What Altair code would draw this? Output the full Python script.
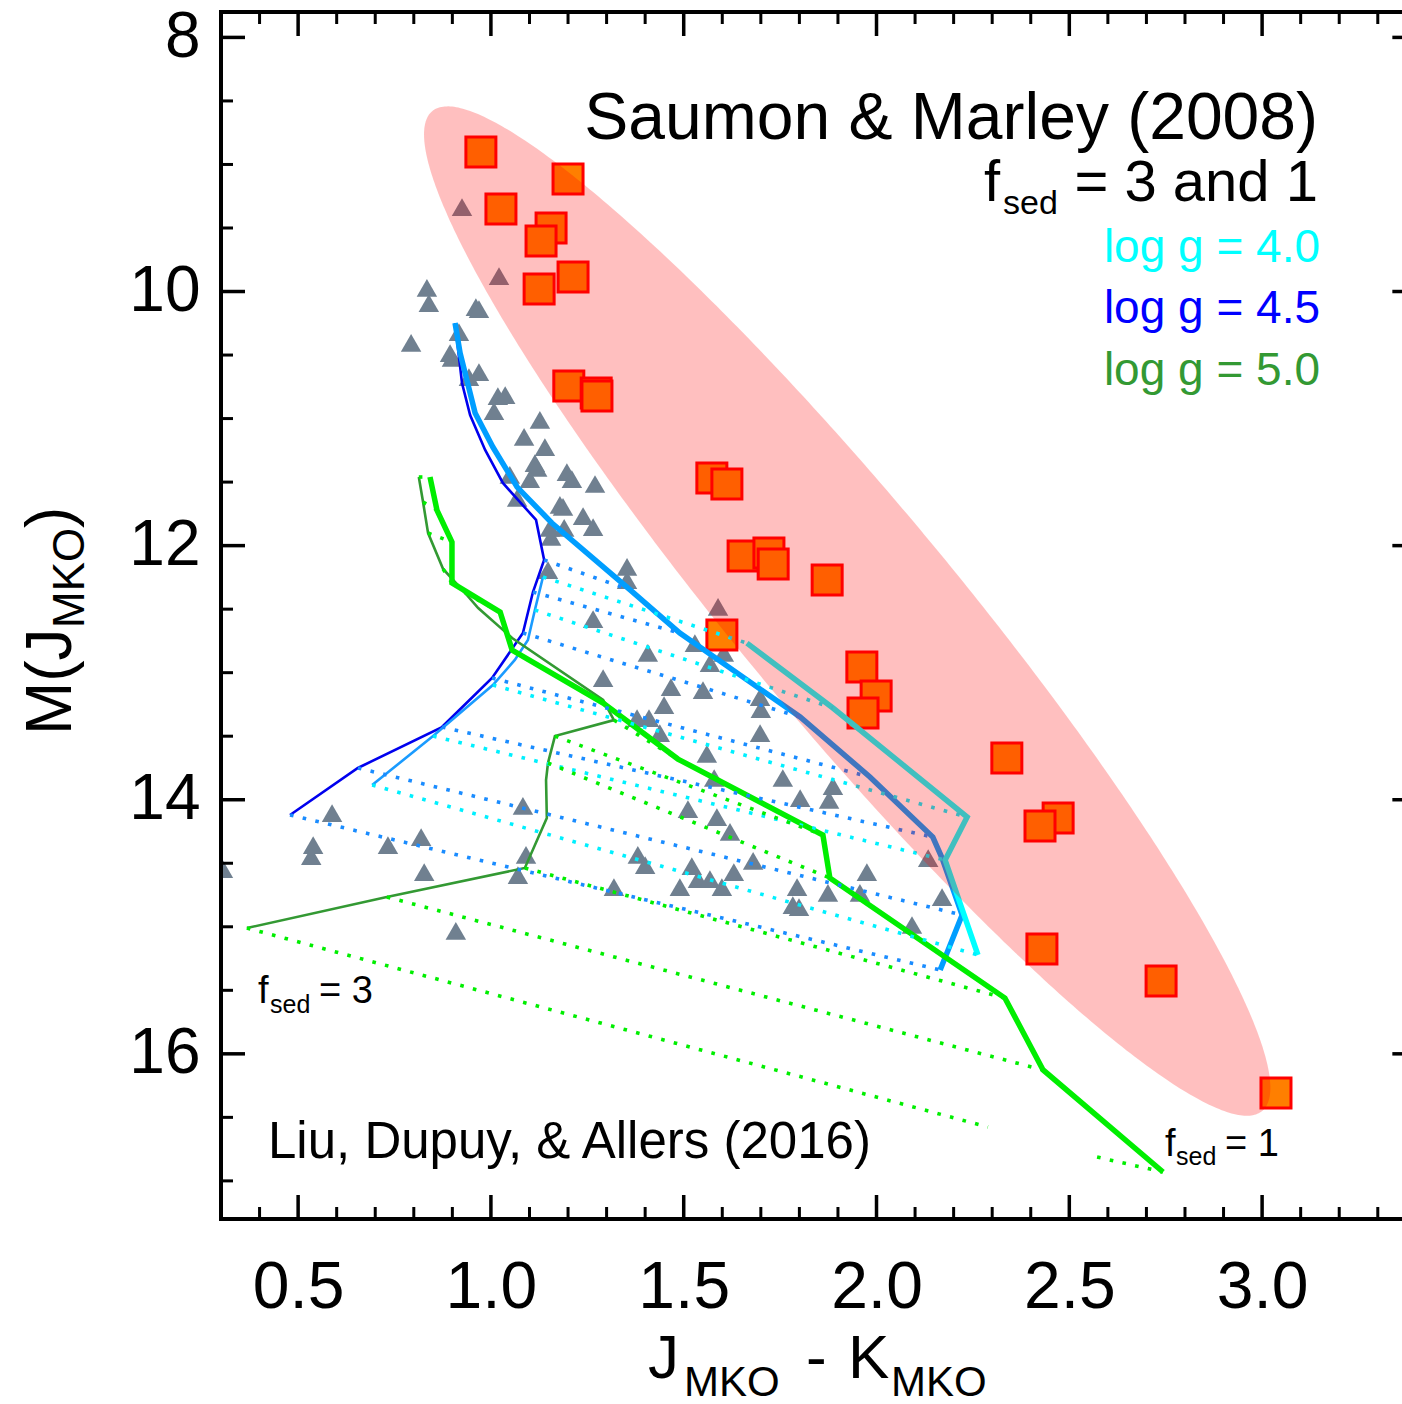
import altair as alt
import numpy as np
import pandas as pd

FONT = "Liberation Sans"

# Visible window of the colour-magnitude diagram
X_DOMAIN = [0.3, 3.3628]
Y_DOMAIN = [7.8, 17.3]
W, H = 1181, 1207
PX_PER_X = W / (X_DOMAIN[1] - X_DOMAIN[0])
RIGHT_FRAME = (3.4 - X_DOMAIN[0]) * PX_PER_X  # box edge, just past the canvas

X_MAJOR = [0.5, 1.0, 1.5, 2.0, 2.5, 3.0]
X_MINOR = [0.3, 0.4, 0.6, 0.7, 0.8, 0.9, 1.1, 1.2, 1.3, 1.4, 1.6, 1.7, 1.8, 1.9,
           2.1, 2.2, 2.3, 2.4, 2.6, 2.7, 2.8, 2.9, 3.1, 3.2, 3.3]
Y_MAJOR = [8, 10, 12, 14, 16]
Y_MINOR = [8.5, 9, 9.5, 10.5, 11, 11.5, 12.5, 13, 13.5, 14.5, 15, 15.5, 16.5, 17]

# Field ultracool dwarfs (Liu, Dupuy & Allers 2016)
tri_jk = [0.925, 1.021, 0.834, 0.839, 0.961, 0.969, 0.793, 0.917, 0.894, 0.899,
          0.943, 0.969, 1.018, 1.037, 1.008, 1.127, 1.086, 1.140, 1.114, 1.120,
          1.101, 1.049, 1.197, 1.210, 1.270, 1.068, 1.179, 1.187, 1.239, 1.153,
          1.156, 1.190, 1.265, 1.148, 1.353, 1.353, 1.265, 1.589, 1.529, 1.604,
          1.568, 1.407, 1.291, 1.467, 1.550, 1.449, 1.698, 1.700, 1.698, 1.379,
          1.410, 1.438, 1.560, 1.757, 1.579, 1.887, 1.802, 1.877, 1.511, 1.586,
          1.620, 2.134, 1.381, 1.400, 1.680, 1.521, 1.630, 1.975, 1.794, 1.874,
          2.170, 1.319, 1.490, 1.537, 1.568, 1.599, 1.783, 1.799, 1.957, 2.092,
          0.588, 0.539, 0.534, 0.733, 0.819, 0.827, 0.305, 1.083, 1.091, 1.070,
          0.909]
tri_mj = [9.335, 9.878, 9.972, 10.091, 10.122, 10.138, 10.405, 10.319, 10.484, 10.523,
          10.673, 10.634, 10.823, 10.815, 10.941, 11.011, 11.145, 11.224, 11.350, 11.389,
          11.476, 11.444, 11.421, 11.476, 11.515, 11.625, 11.680, 11.696, 11.767, 11.861,
          11.932, 11.861, 11.854, 12.192, 12.168, 12.271, 12.578, 12.483, 12.767, 12.845,
          12.924, 12.845, 13.042, 13.113, 13.137, 13.255, 13.192, 13.286, 13.475, 13.357,
          13.357, 13.475, 13.640, 13.829, 13.829, 13.892, 13.987, 14.002, 14.073, 14.136,
          14.254, 14.459, 14.435, 14.514, 14.482, 14.522, 14.569, 14.569, 14.687, 14.734,
          14.766, 14.687, 14.687, 14.624, 14.624, 14.687, 14.829, 14.845, 14.734, 14.986,
          14.105, 14.357, 14.443, 14.357, 14.294, 14.569, 14.546, 14.049, 14.435, 14.593,
          15.033]

# Young, low-gravity objects
sq_jk = [0.974, 1.200, 1.026, 1.156, 1.130, 1.213, 1.125, 1.202, 1.273, 1.275,
         1.573, 1.612, 1.654, 1.721, 1.732, 1.872, 1.599, 1.962, 1.999, 1.965,
         2.338, 2.471, 2.424, 2.429, 2.738, 3.036]
sq_mj = [8.902, 9.114, 9.351, 9.500, 9.602, 9.886, 9.980, 10.744, 10.799, 10.822,
         11.468, 11.515, 12.082, 12.058, 12.145, 12.271, 12.704, 12.955, 13.184, 13.318,
         13.672, 14.144, 14.207, 15.175, 15.427, 16.308]

# Saumon & Marley (2008) model tracks
g45_f3_jk = [0.907, 0.925, 0.946, 0.985, 1.031, 1.117, 1.138, 1.109, 1.083, 1.003, 0.873, 0.655, 0.479]
g45_f3_mj = [10.248, 10.720, 10.972, 11.247, 11.507, 11.798, 12.113, 12.365, 12.688, 13.042, 13.428, 13.750, 14.120]
g40_f3_jk = [1.135, 1.114, 1.096, 1.062, 1.005, 0.850, 0.692]
g40_f3_mj = [12.247, 12.507, 12.743, 12.900, 13.097, 13.499, 13.884]
g50_f3_jk = [0.813, 0.824, 0.837, 0.876, 0.933, 0.967, 1.055, 1.291, 1.319, 1.166, 1.148, 1.143, 1.145, 1.088, 0.730, 0.367]
g50_f3_mj = [11.460, 11.657, 11.901, 12.184, 12.373, 12.491, 12.727, 13.215, 13.373, 13.499, 13.711, 13.845, 14.144, 14.537, 14.766, 15.010]

g45_f1_jk = [0.907, 0.920, 0.959, 1.005, 1.068, 1.158, 1.361, 1.490, 1.802, 1.983, 2.146, 2.170, 2.222, 2.165]
g45_f1_mj = [10.248, 10.484, 10.956, 11.224, 11.539, 11.822, 12.349, 12.688, 13.349, 13.821, 14.294, 14.459, 14.907, 15.340]
g40_f1_jk = [1.664, 1.887, 2.235, 2.178, 2.263]
g40_f1_mj = [12.767, 13.278, 14.136, 14.475, 15.222]
g50_f1_jk = [0.842, 0.860, 0.899, 0.899, 1.024, 1.055, 1.291, 1.485, 1.861, 1.879, 2.333, 2.432, 2.743]
g50_f1_mj = [11.460, 11.720, 11.972, 12.294, 12.523, 12.822, 13.239, 13.680, 14.278, 14.616, 15.561, 16.127, 16.930]

# Equal-Teff links between the f_sed = 3 and f_sed = 1 tracks: (jk0, mj0, jk1, mj1)
links_g45 = [(1.138, 12.113, 1.361, 12.349), (1.109, 12.365, 1.490, 12.688),
             (1.083, 12.688, 1.802, 13.349), (1.003, 13.042, 1.983, 13.821),
             (0.873, 13.428, 2.146, 14.294), (0.655, 13.750, 2.222, 14.907),
             (0.479, 14.120, 2.165, 15.340)]
links_g40 = [(1.135, 12.247, 1.664, 12.767), (1.114, 12.507, 1.887, 13.278),
             (1.005, 13.097, 2.235, 14.136), (0.850, 13.499, 2.178, 14.475),
             (0.692, 13.884, 2.263, 15.222)]
links_g50 = [(0.813, 11.460, 0.842, 11.460), (0.824, 11.657, 0.860, 11.720),
             (0.837, 11.901, 0.899, 11.972), (0.876, 12.184, 0.899, 12.294),
             (0.933, 12.373, 1.024, 12.523), (1.319, 13.373, 1.485, 13.680),
             (1.166, 13.499, 1.861, 14.278), (1.148, 13.711, 1.879, 14.616),
             (1.088, 14.537, 2.333, 15.561), (0.730, 14.766, 2.432, 16.127),
             (0.367, 15.010, 2.289, 16.576), (2.572, 16.812, 2.743, 16.930)]

# Shaded locus of the young objects: centre and two conjugate semi-axes
ELL_CENTER = (1.924, 12.515)
ELL_U = (1.076, 3.935)
ELL_V = (0.216, -0.543)

xscale = alt.Scale(domain=X_DOMAIN, nice=False, zero=False)
yscale = alt.Scale(domain=Y_DOMAIN, nice=False, zero=False, reverse=True)
xaxis = alt.Axis(values=X_MAJOR, format=".1f", labelFontSize=66, labelFont=FONT,
                 labelColor="black", ticks=False, tickSize=0, domain=False, grid=False,
                 labelPadding=88, labelBaseline="alphabetic", labelFlush=False,
                 labelOverlap=False, title=None)
yaxis = alt.Axis(values=Y_MAJOR, format="d", labelFontSize=64, labelFont=FONT,
                 labelColor="black", ticks=False, tickSize=0, domain=False, grid=False,
                 labelPadding=21, labelFlush=False, labelOverlap=False, title=None)


def X(field="x"):
    return alt.X(f"{field}:Q", scale=xscale, axis=xaxis)


def Y(field="y"):
    return alt.Y(f"{field}:Q", scale=yscale, axis=yaxis)


def track(xs, ys, color, width):
    df = pd.DataFrame({"x": xs, "y": ys, "i": range(len(xs))})
    return alt.Chart(df).mark_line(color=color, strokeWidth=width, strokeJoin="miter").encode(
        x=X(), y=Y(), order="i:Q")


def links(segs, color):
    rows = []
    for k, (a, b, c, d) in enumerate(segs):
        rows.append({"seg": k, "i": 0, "x": a, "y": b})
        rows.append({"seg": k, "i": 1, "x": c, "y": d})
    return alt.Chart(pd.DataFrame(rows)).mark_line(
        color=color, strokeWidth=3.6, strokeDash=[3.6, 9.4], strokeCap="butt").encode(
        x=X(), y=Y(), detail="seg:N", order="i:Q")


def label(text, x, y, size, color="black", align="left", angle=0, baseline="alphabetic"):
    return alt.Chart(pd.DataFrame({"t": [text]})).mark_text(
        text=text, font=FONT, fontSize=size, color=color, align=align,
        baseline=baseline, angle=angle).encode(x=alt.value(x), y=alt.value(y))


one = pd.DataFrame({"k": [0]})

# ticks pointing into the box on all four sides
xt_major = pd.DataFrame({"x": X_MAJOR})
xt_minor = pd.DataFrame({"x": X_MINOR})
yt_major = pd.DataFrame({"y": Y_MAJOR})
yt_minor = pd.DataFrame({"y": Y_MINOR})

tick_layers = []
for d, ln, sw in [(xt_major, 24, 3.5), (xt_minor, 12, 3)]:
    tick_layers.append(alt.Chart(d).mark_rule(color="black", strokeWidth=sw).encode(
        x=X(), y=alt.value(H), y2=alt.value(H - ln)))
    tick_layers.append(alt.Chart(d).mark_rule(color="black", strokeWidth=sw).encode(
        x=X(), y=alt.value(0), y2=alt.value(ln)))
for d, ln, sw in [(yt_major, 24, 3.5), (yt_minor, 12, 3)]:
    tick_layers.append(alt.Chart(d).mark_rule(color="black", strokeWidth=sw).encode(
        y=Y(), x=alt.value(0), x2=alt.value(ln)))
    tick_layers.append(alt.Chart(d).mark_rule(color="black", strokeWidth=sw).encode(
        y=Y(), x=alt.value(RIGHT_FRAME - ln), x2=alt.value(RIGHT_FRAME)))

frame = [
    alt.Chart(one).mark_rule(color="black", strokeWidth=4, strokeCap="square").encode(
        x=alt.value(0), y=alt.value(0), y2=alt.value(H)),
    alt.Chart(one).mark_rule(color="black", strokeWidth=4, strokeCap="square").encode(
        y=alt.value(0), x=alt.value(0), x2=alt.value(W + 10)),
    alt.Chart(one).mark_rule(color="black", strokeWidth=4, strokeCap="square").encode(
        y=alt.value(H), x=alt.value(0), x2=alt.value(W + 10)),
]

tri = alt.Chart(pd.DataFrame({"x": tri_jk, "y": tri_mj})).mark_point(
    shape="triangle-up", filled=True, color="#708090", opacity=1, size=420, clip=True
).encode(x=X(), y=Y())

sq = alt.Chart(pd.DataFrame({"x": sq_jk, "y": sq_mj})).mark_point(
    shape="square", filled=True, fill="#FF7F00", stroke="#FF0000", strokeWidth=3,
    opacity=1, size=900).encode(x=X(), y=Y())

# ellipse outline split into upper and lower branches for an area mark
cx, cy = ELL_CENTER
R = np.hypot(ELL_U[0], ELL_V[0])
phi = np.arctan2(ELL_V[0], ELL_U[0])
u = np.linspace(0, np.pi, 241)
ta, tb = phi + u, phi - u
ell = pd.DataFrame({
    "x": cx + R * np.cos(u),
    "y": cy + ELL_U[1] * np.cos(ta) + ELL_V[1] * np.sin(ta),
    "y2": cy + ELL_U[1] * np.cos(tb) + ELL_V[1] * np.sin(tb),
})
ellipse = alt.Chart(ell).mark_area(color="#FF0000", opacity=0.25).encode(
    x=X(), y=Y(), y2="y2:Q")

lines = [
    track(g45_f3_jk, g45_f3_mj, "#0000EE", 2.6),
    track(g40_f3_jk, g40_f3_mj, "#1A9BFF", 2.6),
    track(g50_f3_jk, g50_f3_mj, "#339933", 2.6),
    track(g45_f1_jk, g45_f1_mj, "#009EFF", 5.5),
    track(g40_f1_jk, g40_f1_mj, "#00FFFF", 5.5),
    track(g50_f1_jk, g50_f1_mj, "#00EE00", 5.5),
    links(links_g45, "#1A8CFF"),
    links(links_g40, "#00F0FF"),
    links(links_g50, "#00EE00"),
]

texts = [
    label("Saumon & Marley (2008)", 1097, 127, 66, align="right"),
    label("f", 763, 189, 58),
    label("sed", 782, 202, 34),
    label("= 3 and 1", 1097, 189, 58, align="right"),
    label("log g = 4.0", 1099, 250, 46, color="#00FFFF", align="right"),
    label("log g = 4.5", 1099, 311, 46, color="#0000FF", align="right"),
    label("log g = 5.0", 1099, 373, 46, color="#339933", align="right"),
    label("f", 37, 991, 38),
    label("sed", 49, 1001, 25),
    label("= 3", 98, 991, 38),
    label("Liu, Dupuy, & Allers (2016)", 47, 1146, 51),
    label("f", 944, 1144, 38),
    label("sed", 955, 1153, 25),
    label("= 1", 1004, 1144, 38),
    # x-axis title
    label("J", 427, 1366, 62),
    label("MKO", 463, 1384, 42),
    label("-", 585, 1366, 62),
    label("K", 627, 1366, 62),
    label("MKO", 670, 1384, 42),
    # y-axis title, reading upwards
    label("M(J", -150, 723, 64, angle=270),
    label("MKO", -137, 616, 44, angle=270),
    label(")", -150, 516, 64, angle=270),
]

chart = alt.layer(
    tri, sq, *lines, ellipse, *tick_layers, *frame, *texts
).properties(
    width=W, height=H,
    padding={"left": 221, "top": 12, "right": 0, "bottom": 185},
    autosize=alt.AutoSizeParams(type="none"),
).configure_view(strokeWidth=0).configure(background="white")

chart.save("out.html", embed_options={"renderer": "svg", "actions": False})
